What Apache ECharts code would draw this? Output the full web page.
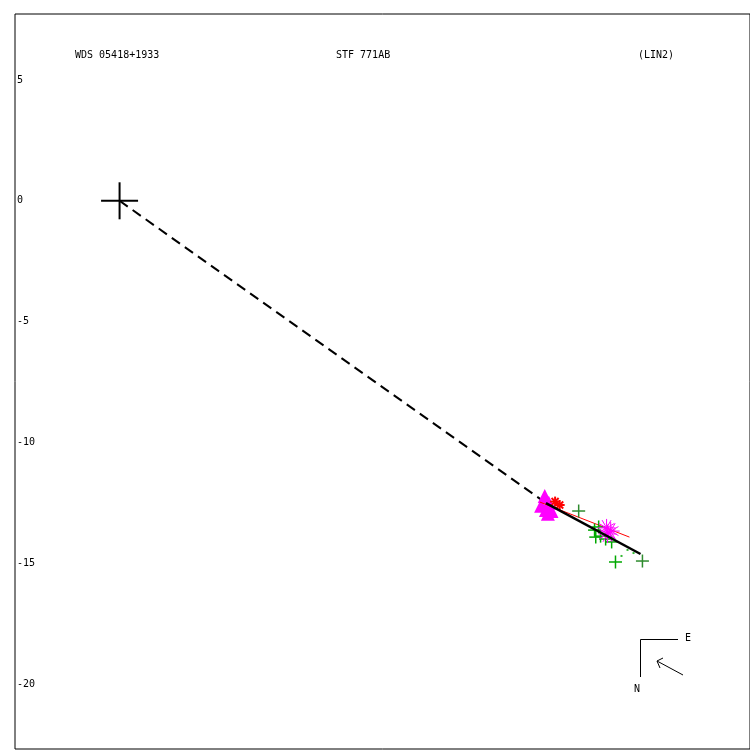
<!DOCTYPE html>
<html>
<head>
<meta charset="utf-8">
<script src="https://cdn.jsdelivr.net/npm/echarts@6/dist/echarts.min.js"></script>
<style>html,body{margin:0;padding:0;background:#fff;}#c{width:750px;height:750px;}</style>
</head>
<body>
<div id="c"></div>
<script>
// ---- data (arcseconds, x = relative offset, y = relative offset) ----
const yTickValues = [5, 0, -5, -10, -15, -20];
const primaryStar = [[0, 0]];
const dashedSegment = [[0, 0], [17.72, -12.51]];
const ephemerisSegment = [[17.72, -12.51], [21.65, -14.62]];
const fitSegment = [[17.47, -12.47], [21.19, -13.92]];
const magentaTriangles = [[17.67, -12.22], [17.84, -12.50], [17.72, -12.80], [17.95, -12.84], [17.52, -12.62], [17.80, -12.95]];
const redStars = [[18.29, -12.59], [18.10, -12.45]];
const magentaAsterisks = [[20.24, -13.54], [20.41, -13.67], [20.28, -13.79]];
const darkGreenCrosses = [[19.08, -12.84], [21.73, -14.91]];
const greenCrosses = [[19.74, -13.63], [19.91, -13.50], [19.99, -13.88], [19.79, -13.92], [20.20, -14.00], [20.45, -14.12], [20.61, -14.95]];
const greenDots = [[20.86, -14.70], [21.11, -14.45], [21.36, -14.58]];
const titleLeft = 'WDS 05418+1933';
const titleMid = 'STF 771AB';
const titleRight = '(LIN2)';

const PX = 24.16;
const xMin = (15 - 120) / PX, xMax = xMin + 738 / PX;
const yMax = (200.8 - 14) / PX, yMin = yMax - 735 / PX;
const FONT = 'DejaVu Sans Mono';

function markSeries(data, color, size, lw, angles) {
  return {
    type: 'custom', data: data, z: 5,
    renderItem: function (params, api) {
      const p = api.coord([api.value(0), api.value(1)]);
      const children = angles.map(function (a) {
        const r = a * Math.PI / 180, dx = Math.cos(r) * size / 2, dy = Math.sin(r) * size / 2;
        return { type: 'line', shape: { x1: p[0] - dx, y1: p[1] - dy, x2: p[0] + dx, y2: p[1] + dy },
                 style: { stroke: color, lineWidth: lw } };
      });
      return { type: 'group', children: children };
    }
  };
}

const chart = echarts.init(document.getElementById('c'), null, { renderer: 'canvas' });
chart.setOption({
  animation: false,
  backgroundColor: '#fff',
  grid: { left: 15, top: 14, width: 738, height: 735, show: true, borderColor: '#000', borderWidth: 1, backgroundColor: 'transparent' },
  xAxis: { type: 'value', min: xMin, max: xMax, axisLine: { show: false }, axisTick: { show: false }, axisLabel: { show: false }, splitLine: { show: false } },
  yAxis: { type: 'value', min: yMin, max: yMax, axisLine: { show: false }, axisTick: { show: false, customValues: yTickValues }, splitLine: { show: false },
    axisLabel: { inside: true, margin: 2, customValues: yTickValues, fontFamily: FONT, fontSize: 10, color: '#000', padding: [4, 0, 0, 0], showMinLabel: true, showMaxLabel: true } },
  series: [
    { type: 'line', data: dashedSegment, symbol: 'none', lineStyle: { color: '#000', width: 2, type: [10, 6] }, z: 2 },
    { type: 'line', data: ephemerisSegment, symbol: 'none', lineStyle: { color: '#000', width: 2.5 }, z: 6 },
    { type: 'line', data: fitSegment, symbol: 'none', lineStyle: { color: '#ff0000', width: 1 }, z: 4 },
    markSeries(primaryStar, '#000', 37, 2, [0, 90]),
    { type: 'scatter', data: magentaTriangles, symbol: 'triangle', symbolSize: 14, itemStyle: { color: '#ff00ff', opacity: 1 }, z: 3 },
    markSeries(redStars, '#ff0000', 10, 2, [0, 45, 90, 135]),
    markSeries(darkGreenCrosses, '#2e8b2e', 13, 1.5, [0, 90]),
    markSeries(greenCrosses, '#00a800', 13, 1.5, [0, 90]),
    markSeries(magentaAsterisks, '#ff00ff', 18, 1, [0, 30, 60, 90, 120, 150]),
    { type: 'scatter', data: greenDots, symbol: 'rect', symbolSize: 2, itemStyle: { color: '#00a800' }, z: 5 }
  ],
  graphic: [
    { type: 'text', left: 75, top: 50, style: { text: titleLeft, font: '10px "DejaVu Sans Mono"', fill: '#000' } },
    { type: 'text', left: 336, top: 50, style: { text: titleMid, font: '10px "DejaVu Sans Mono"', fill: '#000' } },
    { type: 'text', left: 638, top: 50, style: { text: titleRight, font: '10px "DejaVu Sans Mono"', fill: '#000' } },
    { type: 'polyline', shape: { points: [[678, 639.5], [640.5, 639.5], [640.5, 677]] }, style: { stroke: '#000', lineWidth: 1, fill: null } },
    { type: 'text', left: 685, top: 633, style: { text: 'E', font: '10px "DejaVu Sans Mono"', fill: '#000' } },
    { type: 'text', left: 634, top: 684, style: { text: 'N', font: '10px "DejaVu Sans Mono"', fill: '#000' } },
    { type: 'line', shape: { x1: 683, y1: 675, x2: 657, y2: 661 }, style: { stroke: '#000', lineWidth: 1 } },
    { type: 'polyline', shape: { points: [[663, 658], [657, 661], [660, 668]] }, style: { stroke: '#000', lineWidth: 1, fill: null } }
  ]
});
</script>
</body>
</html>
